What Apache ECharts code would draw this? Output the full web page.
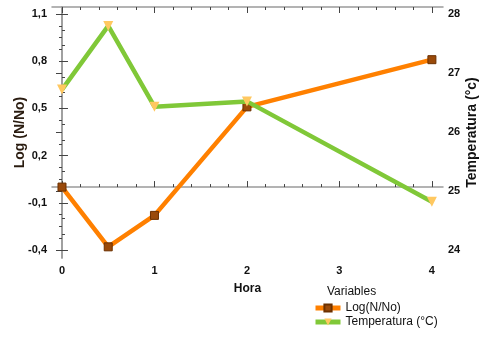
<!DOCTYPE html>
<html>
<head>
<meta charset="utf-8">
<script src="https://cdn.jsdelivr.net/npm/echarts@6/dist/echarts.min.js"></script>
<style>html,body{margin:0;padding:0;background:#fff}#c{width:483px;height:337px}</style>
</head>
<body>
<div id="c"></div>
<script>
// Data
const hours = [0, 0.5, 1, 2, 4];
const logValues = [0.0, -0.38, -0.18, 0.51, 0.81];
const tempValues = [26.72, 27.8, 26.43, 26.52, 24.82];
const xTickLabels = [0, 1, 2, 3, 4];
const leftTickLabels = [-0.4, -0.1, 0.2, 0.5, 0.8, 1.1];
const rightTickLabels = [24, 25, 26, 27, 28];
const seriesNames = ['Log(N/No)', 'Temperatura (°C)'];

function range(a, b, step) { const r = []; for (let v = a; v <= b + 1e-9; v += step) r.push(Math.round(v * 1000) / 1000); return r; }
const xMinor = range(0, 4, 0.2);
const leftMinor = range(-0.4, 1.1, 0.1);
const rightMinor = range(24, 28, 0.2);

const font = 'Liberation Sans, Arial, sans-serif';
const lineCol = '#9a9a9a';
const tickCol = '#444';
const X_MIN = -0.108, X_MAX = 4.12;
const L_MIN = -0.451, L_MAX = 1.145;
const R_MIN = 23.865, R_MAX = 28.12;

const chart = echarts.init(document.getElementById('c'), null, {renderer: 'canvas'});
const labelStyle = {fontFamily: font, fontWeight: 'bold', fontSize: 11, color: '#111'};

function xAx(position, major, showLabel, extra) {
  return Object.assign({
    type: 'value', position: position, min: X_MIN, max: X_MAX,
    axisLine: {show: major, lineStyle: {color: lineCol, width: 1.5}},
    axisTick: {show: true, inside: true, length: major ? 6 : 3, customValues: major ? xTickLabels : xMinor, lineStyle: {color: tickCol}},
    axisLabel: {show: showLabel, customValues: xTickLabels, margin: 7, ...labelStyle, formatter: v => String(v)},
    splitLine: {show: false}
  }, extra || {});
}
function yAx(position, min, max, labels, minor, major, showLabel, fmt, extra) {
  return Object.assign({
    type: 'value', position: position, min: min, max: max,
    axisLine: {show: major, lineStyle: {color: lineCol, width: 1.5}},
    axisTick: {show: true, inside: true, length: major ? 6 : 3, customValues: major ? labels : minor, lineStyle: {color: tickCol}},
    axisLabel: {show: showLabel, customValues: labels, margin: 5, ...labelStyle, formatter: fmt},
    splitLine: {show: false}
  }, extra || {});
}
const commaFmt = v => (Math.round(v * 10) / 10).toFixed(1).replace('.', ',');

chart.setOption({
  backgroundColor: '#fff',
  animation: false,
  grid: {left: 52, right: 40, top: 7, bottom: 79, containLabel: false, outerBoundsMode: 'none'},
  title: {text: 'Variables', left: 327, top: 286, padding: 0,
    textStyle: {fontFamily: font, fontSize: 12, fontWeight: 'normal', color: '#111'}},
  legend: {
    orient: 'vertical', left: 313, top: 302, itemWidth: 25, itemHeight: 9, itemGap: 2, padding: 0,
    textStyle: {fontFamily: font, fontSize: 12, color: '#111'},
    lineStyle: {width: 5},
    data: seriesNames
  },
  xAxis: [
    xAx('bottom', true, true, {name: 'Hora', nameLocation: 'middle', nameGap: 25, nameMoveOverlap: false,
      nameTextStyle: {fontFamily: font, fontWeight: 'bold', fontSize: 12, color: '#111'}}),
    xAx('bottom', false, false),
    xAx('top', true, false),
    xAx('top', false, false)
  ],
  yAxis: [
    yAx('left', L_MIN, L_MAX, leftTickLabels, leftMinor, true, true, commaFmt,
      {name: 'Log (N/No)', nameLocation: 'middle', nameGap: 25, nameMoveOverlap: false,
       nameTextStyle: {fontFamily: font, fontWeight: 'bold', fontSize: 14, color: '#2a1c10'}}),
    yAx('left', L_MIN, L_MAX, leftTickLabels, leftMinor, false, false, commaFmt),
    yAx('right', R_MIN, R_MAX, rightTickLabels, rightMinor, true, true, v => String(v),
      {name: 'Temperatura (°c)', nameLocation: 'middle', nameGap: 22, nameMoveOverlap: false,
       nameTextStyle: {fontFamily: font, fontWeight: 'bold', fontSize: 14, color: '#111'}}),
    yAx('right', R_MIN, R_MAX, rightTickLabels, rightMinor, false, false, v => String(v))
  ],
  series: [
    {
      name: seriesNames[0], type: 'line', xAxisIndex: 0, yAxisIndex: 0,
      data: hours.map((h, i) => [h, logValues[i]]),
      lineStyle: {color: '#ff8000', width: 4.5},
      itemStyle: {color: '#9a4a0a', borderColor: '#6b3000', borderWidth: 1},
      symbol: 'rect', symbolSize: 8, showSymbol: true, z: 2
    },
    {
      name: seriesNames[1], type: 'line', xAxisIndex: 0, yAxisIndex: 2,
      data: hours.map((h, i) => [h, tempValues[i]]),
      lineStyle: {color: '#80c838', width: 4.5},
      itemStyle: {color: '#ffc860', borderWidth: 0},
      symbol: 'triangle', symbolRotate: 180, symbolSize: 10, showSymbol: true, z: 3
    }
  ]
});
</script>
</body>
</html>
